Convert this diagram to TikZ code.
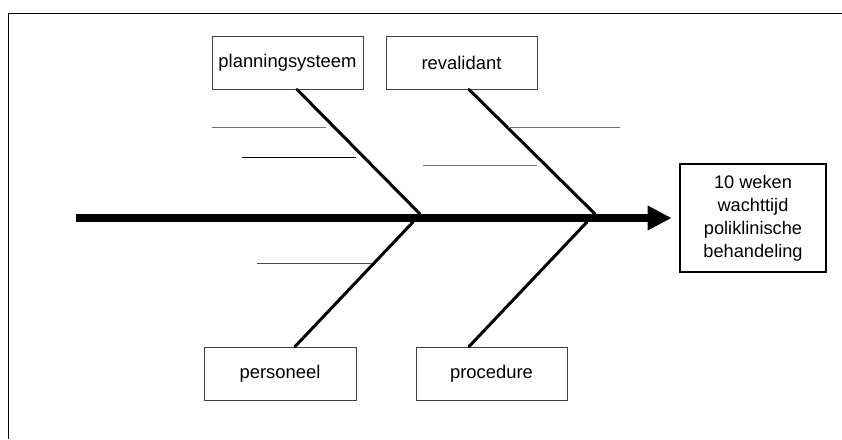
\documentclass[tikz,border=0pt]{standalone}
\usepackage{fontspec}
\setmainfont{Liberation Sans}
\usetikzlibrary{arrows.meta}
\tikzset{
  cause/.style={draw=black!75, line width=0.9pt, minimum width=151pt, minimum height=53pt, inner sep=0pt, font=\fontsize{18.4}{22}\selectfont},
  effect/.style={draw=black, line width=2.6pt, minimum width=146pt, minimum height=108pt, inner sep=0pt, align=center, font=\fontsize{18.2}{23}\selectfont},
  bone/.style={line width=3pt, line cap=round},
  spine/.style={line width=8pt, -{Triangle[length=24pt,width=23pt]}},
  subline/.style={line width=1pt, draw=black!55},
  frameline/.style={line width=1pt, draw=black}
}
\begin{document}
\begin{tikzpicture}[x=1pt,y=-1pt]
\useasboundingbox (0,0) rectangle (842,439);
% frame
\coordinate (f1) at (842,13);
\coordinate (f2) at (8,13);
\coordinate (f3) at (8,439);
\draw[frameline] (f1) -- (f2) -- (f3);
% nodes
\node[cause] (plan) at (287.5,62.5) {planningsysteem};
\node[cause] (reval) at (461.5,62.5) {revalidant};
\node[cause, minimum width=152pt] (pers) at (280,373.5) {personeel};
\node[cause] (proc) at (491.5,373.5) {procedure};
\node[effect] (res) at (753,218) {10 weken\\wachttijd\\poliklinische\\behandeling};
% spine
\coordinate (tail) at (76,218);
\draw[spine, shorten >=7pt] (tail) -- (res.west);
% junctions
\coordinate (j1t) at (420,214);
\coordinate (j2t) at (595,214);
\coordinate (j1b) at (413,222);
\coordinate (j2b) at (587,222);
\draw[bone] ([xshift=9.5pt]plan.south) -- (j1t);
\draw[bone] ([xshift=7.5pt]reval.south) -- (j2t);
\draw[bone] (j1b) -- ([xshift=15pt]pers.north);
\draw[bone] (j2b) -- ([xshift=-22.5pt]proc.north);
% sub-cause lines
\coordinate (s1a) at (212,127); \coordinate (s1b) at (326,127);
\coordinate (s2a) at (242,157); \coordinate (s2b) at (356,157);
\coordinate (s3a) at (508,127); \coordinate (s3b) at (620,127);
\coordinate (s4a) at (423,165); \coordinate (s4b) at (537,165);
\coordinate (s5a) at (257,263); \coordinate (s5b) at (372,263);
\draw[subline] (s1a) -- (s1b);
\draw[subline, draw=black] (s2a) -- (s2b);
\draw[subline] (s3a) -- (s3b);
\draw[subline] (s4a) -- (s4b);
\draw[subline, draw=black!70] (s5a) -- (s5b);
\end{tikzpicture}
\end{document}
